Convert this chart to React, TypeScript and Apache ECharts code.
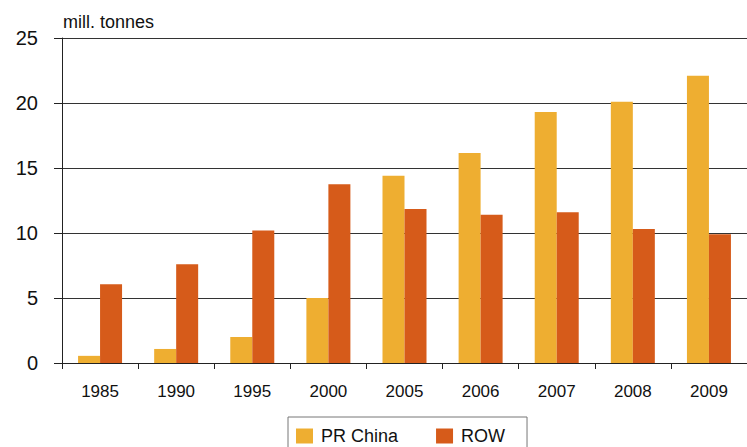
import React, { useEffect, useRef } from "react";
import * as echarts from "echarts";

const categories = ["1985", "1990", "1995", "2000", "2005", "2006", "2007", "2008", "2009"];
const chinaValues = [0.55, 1.08, 2.0, 5.0, 14.4, 16.15, 19.3, 20.1, 22.1];
const rowValues = [6.05, 7.6, 10.2, 13.75, 11.85, 11.4, 11.6, 10.3, 9.9];
const seriesNames = ["PR China", "ROW"];
const unitLabel = "mill. tonnes";

export default function App() {
  const ref = useRef<HTMLDivElement>(null);
  useEffect(() => {
    if (!ref.current) return;
    const chart = echarts.init(ref.current, null, { renderer: "svg" });
    const font = "'Liberation Sans', Arial, sans-serif";
    chart.setOption({
      animation: false,
      backgroundColor: "#ffffff",
      grid: { left: 62, top: 38, width: 695, height: 325 },
      graphic: [
        {
          type: "text",
          left: 63,
          top: 13,
          style: { text: unitLabel, fontSize: 18, fontFamily: font, fill: "#111" },
        },
      ],
      legend: {
        left: 288,
        top: 417,
        data: seriesNames,
        icon: "rect",
        itemWidth: 17,
        itemHeight: 15,
        itemGap: 38,
        borderColor: "#777",
        borderWidth: 1,
        padding: [10, 22, 10, 8],
        textStyle: { fontSize: 18, fontFamily: font, color: "#111", padding: [0, 0, 0, 3] },
      },
      xAxis: {
        type: "category",
        data: categories,
        axisLine: { lineStyle: { color: "#222", width: 1 } },
        axisTick: { show: true, length: 6, lineStyle: { color: "#222" } },
        axisLabel: { fontSize: 17, fontFamily: font, color: "#111", margin: 20 },
      },
      yAxis: {
        type: "value",
        min: 0,
        max: 25,
        interval: 5,
        axisLine: { show: true, lineStyle: { color: "#222", width: 1 } },
        axisTick: { show: true, length: 8, lineStyle: { color: "#222" } },
        axisLabel: { fontSize: 20, fontFamily: font, color: "#111", margin: 24 },
        splitLine: { lineStyle: { color: "#333", width: 1 } },
      },
      series: [
        {
          name: seriesNames[0],
          type: "bar",
          data: chinaValues,
          barWidth: 22,
          barGap: "0%",
          itemStyle: { color: "#EEAE31" },
        },
        {
          name: seriesNames[1],
          type: "bar",
          data: rowValues,
          barWidth: 22,
          barGap: "0%",
          itemStyle: { color: "#D65B1A" },
        },
      ],
    });
    return () => chart.dispose();
  }, []);
  return (
    <div
      ref={ref}
      style={{ position: "absolute", left: 0, top: 0, width: 747, height: 447 }}
    />
  );
}
